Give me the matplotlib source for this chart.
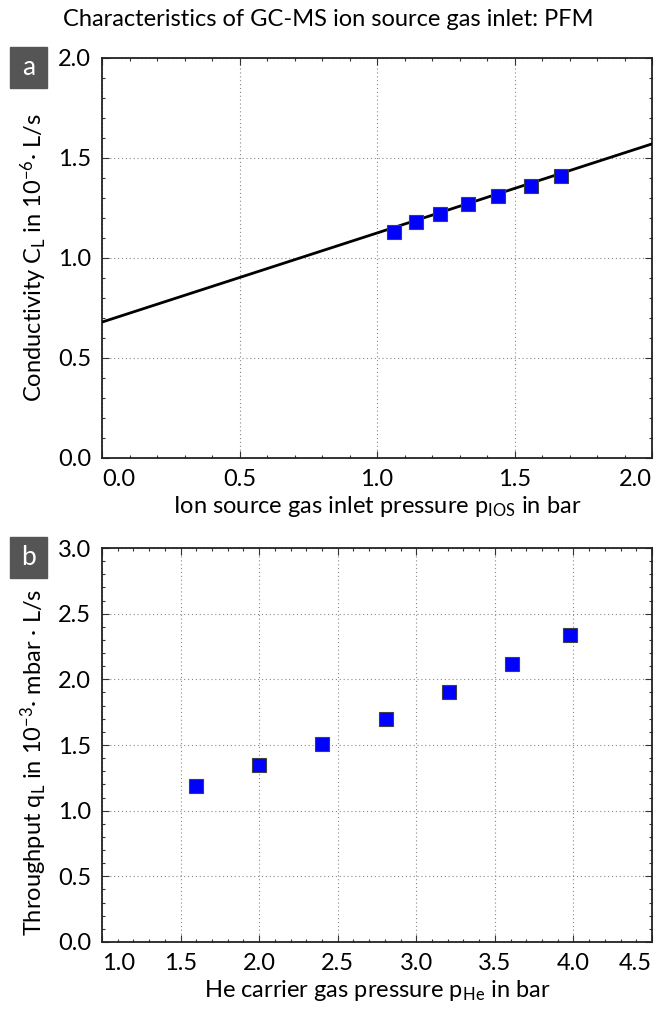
import matplotlib
matplotlib.use("Agg")
import matplotlib.pyplot as plt
from matplotlib.patches import Rectangle
from matplotlib.ticker import MultipleLocator

plt.rcParams['font.family'] = ['Lato', 'DejaVu Sans']
plt.rcParams['mathtext.fontset'] = 'custom'
plt.rcParams['mathtext.rm'] = 'Lato'
plt.rcParams['mathtext.it'] = 'Lato:italic'

# panel a: conductivity vs ion source inlet pressure
p_ios = [1.06, 1.14, 1.23, 1.33, 1.44, 1.56, 1.67]
cond = [1.13, 1.18, 1.22, 1.27, 1.31, 1.36, 1.41]
# fitted line
fit_x = [-0.1, 2.1]
fit_y = [0.635, 1.615]
a_xticks = [0.0, 0.5, 1.0, 1.5, 2.0]
a_yticks = [0.0, 0.5, 1.0, 1.5, 2.0]

# panel b: throughput vs He carrier gas pressure
p_he = [1.60, 2.00, 2.40, 2.81, 3.21, 3.61, 3.98]
thru = [1.19, 1.35, 1.51, 1.70, 1.90, 2.12, 2.34]
b_xticks = [1.0, 1.5, 2.0, 2.5, 3.0, 3.5, 4.0, 4.5]
b_yticks = [0.0, 0.5, 1.0, 1.5, 2.0, 2.5, 3.0]

FS = 17
W, H = 656, 1009
fig = plt.figure(figsize=(W / 100, H / 100), dpi=100)

ax_a = fig.add_axes([102 / W, 1 - 458 / H, 550 / W, 400 / H])
ax_b = fig.add_axes([102 / W, 1 - 942 / H, 550 / W, 394 / H])


def style(ax, xticks, yticks):
    ax.set_xlim(xticks[0], xticks[-1])
    ax.set_ylim(yticks[0], yticks[-1])
    ax.set_xticks(xticks, ["%.1f" % v for v in xticks])
    ax.set_yticks(yticks, ["%.1f" % v for v in yticks])
    ax.xaxis.set_minor_locator(MultipleLocator(0.1))
    ax.yaxis.set_minor_locator(MultipleLocator(0.1))
    ax.tick_params(which='both', direction='in', top=True, right=True,
                   color='#333333', labelsize=FS)
    ax.tick_params(which='major', length=5, width=0.8, pad=8)
    ax.tick_params(which='minor', length=2.5, width=0.8)
    ax.grid(True, which='major', linestyle=(0, (1, 2.5)), color='#888888', lw=0.8)
    for s in ax.spines.values():
        s.set_linewidth(1.3)
        s.set_color('#222222')
    ax.set_axisbelow(True)
    # outer x tick labels stay inside the axes edges, like the original
    labs = ax.get_xticklabels()
    labs[0].set_horizontalalignment('left')
    labs[-1].set_horizontalalignment('right')


def panel_tag(ax, letter):
    bb = ax.get_position()
    top = bb.y1 + 11 / H
    fig.patches.append(Rectangle((10 / W, top - 41 / H), 37 / W, 41 / H,
                                 transform=fig.transFigure, color='#555555'))
    fig.text(28.5 / W, top - 20.5 / H, letter, color='white', fontsize=FS + 2,
             ha='center', va='center')


ax_a.plot(fit_x, fit_y, color='black', lw=2, zorder=3)
ax_a.plot(p_ios, cond, 's', ms=10, color='#0000ff', mec='#404040', mew=0.8, zorder=4)
style(ax_a, a_xticks, a_yticks)
ax_a.set_xlabel(r'Ion source gas inlet pressure p$_\mathregular{IOS}$ in bar', fontsize=FS, labelpad=3)
ax_a.set_ylabel(r'Conductivity C$_\mathregular{L}$ in 10$^{-6}$· L/s', fontsize=FS, labelpad=6)

ax_b.plot(p_he, thru, 's', ms=10, color='#0000ff', mec='#404040', mew=0.8, zorder=4)
style(ax_b, b_xticks, b_yticks)
ax_b.set_xlabel(r'He carrier gas pressure p$_\mathregular{He}$ in bar', fontsize=FS, labelpad=3)
ax_b.set_ylabel(r'Throughput q$_\mathregular{L}$ in 10$^{-3}$· mbar · L/s', fontsize=FS, labelpad=6)
ax_b.yaxis.label.set_y(0.455)

panel_tag(ax_a, 'a')
panel_tag(ax_b, 'b')

fig.suptitle('Characteristics of GC-MS ion source gas inlet: PFM', fontsize=FS,
             x=0.5, y=1 - 19 / H, va='center')

fig.savefig('out.png', dpi=100)
